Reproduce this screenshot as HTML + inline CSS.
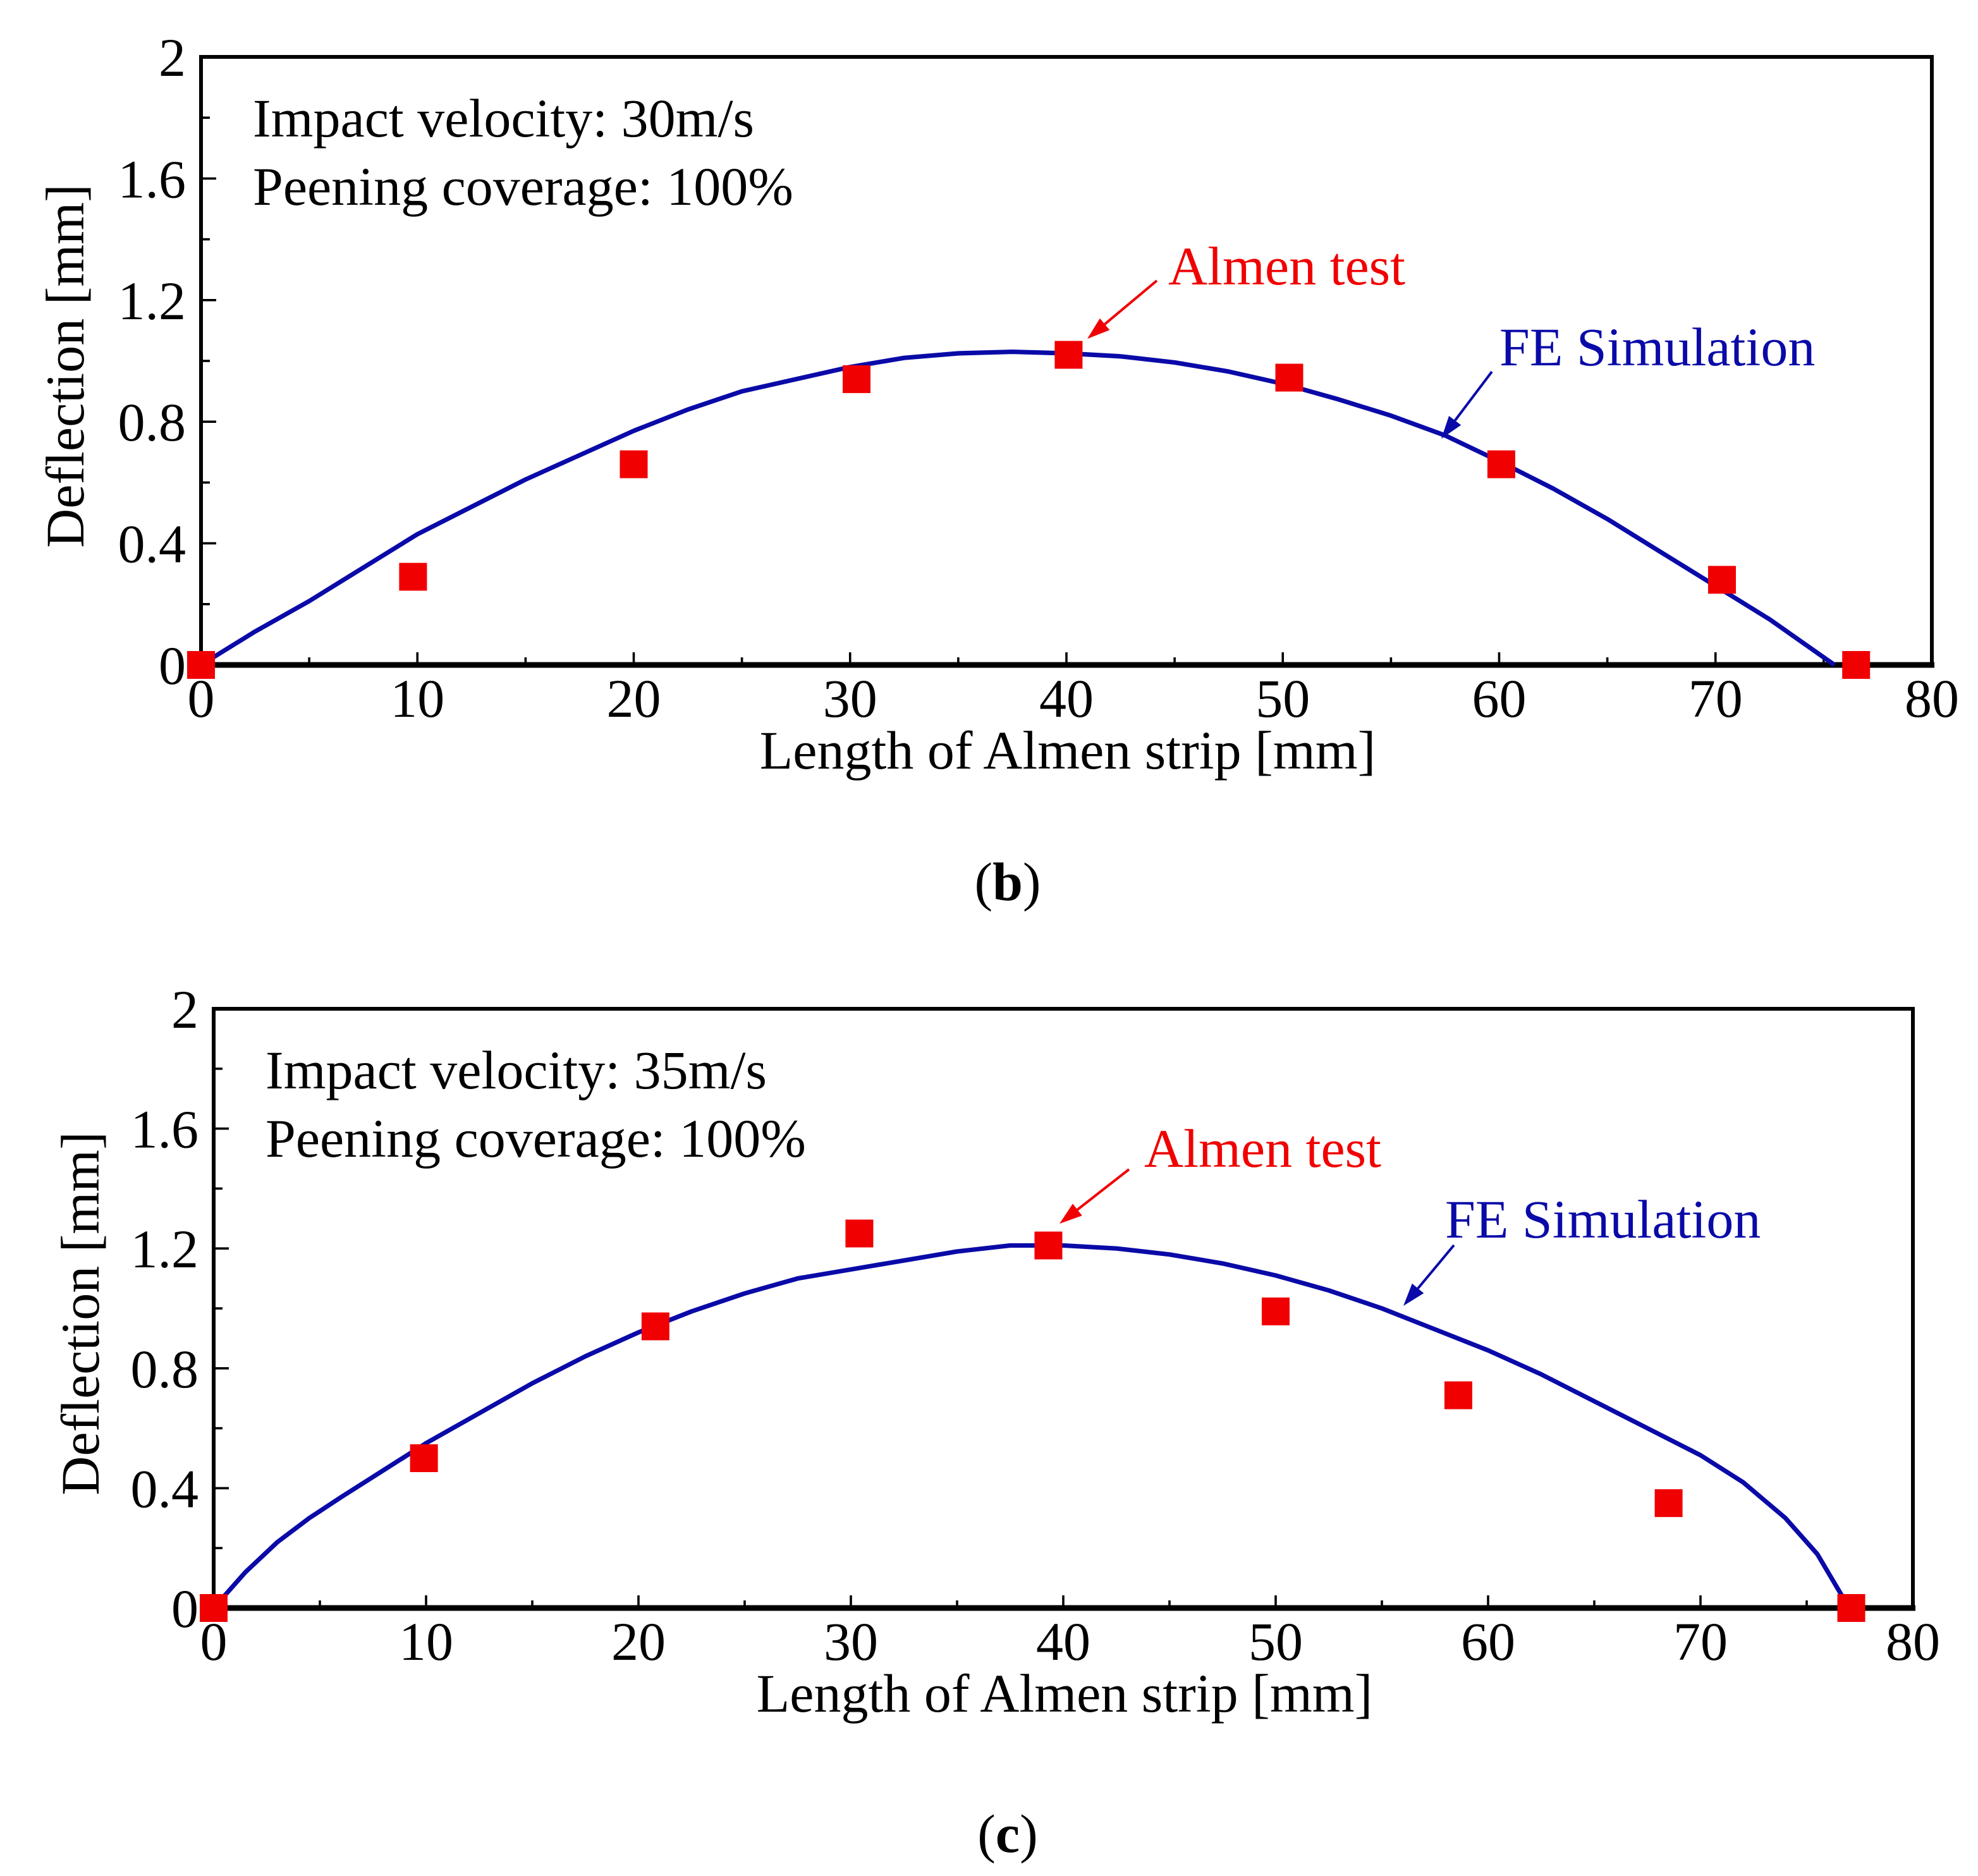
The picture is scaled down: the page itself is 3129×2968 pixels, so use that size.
<!DOCTYPE html>
<html><head><meta charset="utf-8"><style>
html,body{margin:0;padding:0;background:#fff;}
svg{display:block;font-family:"Liberation Serif",serif;}
</style></head><body>
<svg id="fig" width="3129" height="2968" viewBox="0 0 1564.5 1484" xmlns="http://www.w3.org/2000/svg"></svg>
<script>
// Chart (b) data
const bTestX = [0, 9.8, 20, 30.3, 40.1, 50.3, 60.1, 70.3, 76.5];
const bTestY = [0, 0.29, 0.66, 0.94, 1.02, 0.945, 0.66, 0.28, 0];
const bSimX = [0, 2.5, 5, 7.5, 10, 12.5, 15, 17.5, 20, 22.5, 25, 27.5, 30, 32.5, 35, 37.5, 40, 42.5, 45, 47.5, 50, 52.5, 55, 57.5, 60, 62.5, 65, 67.5, 70, 72.5, 75.5];
const bSimY = [0, 0.11, 0.21, 0.32, 0.43, 0.52, 0.61, 0.69, 0.77, 0.84, 0.9, 0.94, 0.98, 1.01, 1.025, 1.03, 1.025, 1.015, 0.995, 0.965, 0.925, 0.875, 0.82, 0.755, 0.67, 0.58, 0.48, 0.37, 0.26, 0.15, 0];
// Chart (c) data
const cTestX = [0, 9.9, 20.8, 30.4, 39.3, 50, 58.6, 68.5, 77.1];
const cTestY = [0, 0.5, 0.94, 1.25, 1.21, 0.99, 0.71, 0.35, 0];
const cSimX = [0, 1.5, 3, 4.5, 6, 8, 10, 12.5, 15, 17.5, 20, 22.5, 25, 27.5, 30, 32.5, 35, 37.5, 40, 42.5, 45, 47.5, 50, 52.5, 55, 57.5, 60, 62.5, 65, 67.5, 70, 72, 74, 75.5, 77];
const cSimY = [0, 0.12, 0.22, 0.3, 0.37, 0.46, 0.55, 0.65, 0.75, 0.84, 0.92, 0.99, 1.05, 1.1, 1.13, 1.16, 1.19, 1.21, 1.21, 1.2, 1.18, 1.15, 1.11, 1.06, 1.0, 0.93, 0.86, 0.78, 0.69, 0.6, 0.51, 0.42, 0.3, 0.18, 0];
const xTicks = [0, 10, 20, 30, 40, 50, 60, 70, 80];
const yTicks = [0, 0.4, 0.8, 1.2, 1.6, 2];
const yTickLabels = ["0", "0.4", "0.8", "1.2", "1.6", "2"];

const NS = "http://www.w3.org/2000/svg";
const svg = document.getElementById('fig');
const FS = 43;
function mk(tag, attrs, parent, text) {
  const e = document.createElementNS(NS, tag);
  for (const k in attrs) e.setAttribute(k, attrs[k]);
  if (text !== undefined) e.textContent = text;
  (parent || svg).appendChild(e);
  return e;
}

function drawChart(cfg) {
  const g = mk('g', {});
  
  
  const L = cfg.L, R = cfg.R, T = cfg.T, B = cfg.B;
  const xs = v => L + (v / 80) * (R - L);
  const ys = v => B - (v / 2) * (B - T);
  const fr = mk('rect', {x: L, y: T, width: R - L, height: B - T, fill: 'none', stroke: '#000', 'stroke-width': 3}, g);
  
  
  for (let v = 0; v <= 80; v += 5) {
    const len = v % 10 === 0 ? 10 : 6;
    const t = mk('line', {x1: xs(v), x2: xs(v), y1: B, y2: B - len, stroke: '#000', 'stroke-width': 1.8}, g);
    
    
  }
  for (let i = 0; i <= 10; i++) {
    const v = i * 0.2;
    const len = i % 2 === 0 ? 12 : 7;
    const t = mk('line', {x1: L, x2: L + len, y1: ys(v), y2: ys(v), stroke: '#000', 'stroke-width': 1.8}, g);
    
    
  }
  xTicks.forEach(v => {
    const t = mk('text', {x: xs(v), y: B + 41, 'font-size': FS, 'text-anchor': 'middle'}, g, String(v));
    
    
  });
  yTicks.forEach((v, i) => {
    const t = mk('text', {x: L - 12, y: ys(v) + 15, 'font-size': FS, 'text-anchor': 'end'}, g, yTickLabels[i]);
    
    
  });
  const xa = mk('line', {x1: L, x2: R + 2, y1: B, y2: B, stroke: '#000', 'stroke-width': 4.5}, g);
  
  
  const xt = mk('text', {x: (L + R) / 2 + 1, y: B + 82, 'font-size': FS, 'text-anchor': 'middle'}, g, 'Length of Almen strip [mm]');
  
  
  const yx = cfg.yTitleX, yy = (T + B) / 2 + 4;
  const yt = mk('text', {x: yx, y: yy, 'font-size': FS, 'text-anchor': 'middle', transform: `rotate(-90 ${yx} ${yy})`}, g, 'Deflection [mm]');
  
  
  let d = '';
  cfg.simX.forEach((v, i) => { d += (i ? 'L' : 'M') + xs(v).toFixed(2) + ' ' + ys(cfg.simY[i]).toFixed(2); });
  const sl = mk('path', {d: d, fill: 'none', stroke: '#0a0aa8', 'stroke-width': 3.6, 'stroke-linejoin': 'round'}, g);
  
  
  cfg.testX.forEach((v, i) => {
    const s = mk('rect', {x: xs(v) - 11, y: ys(cfg.testY[i]) - 11, width: 22, height: 22, fill: '#f00000'}, g);
    
    
  });
  const a1 = mk('text', {x: L + 41, y: cfg.t1y, 'font-size': FS}, g, cfg.vel);
  
  
  const a2 = mk('text', {x: L + 41, y: cfg.t1y + 54, 'font-size': FS}, g, 'Peening coverage: 100%');
  
  
  const at = mk('text', {x: cfg.almen[0], y: cfg.almen[1], 'font-size': FS, fill: '#f00000'}, g, 'Almen test');
  
  
  const fe = mk('text', {x: cfg.fe[0], y: cfg.fe[1], 'font-size': FS, fill: '#0a0aa8'}, g, 'FE Simulation');
  
  
  arrow(g, cfg.arrA, '#f00000', 'almen-test-arrow');
  arrow(g, cfg.arrF, '#0a0aa8', 'fe-simulation-arrow');
  const cap = mk('text', {x: 797, y: cfg.capY, 'font-size': FS, 'text-anchor': 'middle'}, g);
  
  
  mk('tspan', {}, cap, '(');
  mk('tspan', {'font-weight': 'bold'}, cap, cfg.cap);
  mk('tspan', {}, cap, ')');
}
function arrow(g, a, col, name) {
  const [x1, y1, x2, y2] = a;
  const ang = Math.atan2(y2 - y1, x2 - x1);
  const hl = 18, hw = 6;
  const bx = x2 - hl * Math.cos(ang), by = y2 - hl * Math.sin(ang);
  const ln = mk('line', {x1: x1, y1: y1, x2: bx, y2: by, stroke: col, 'stroke-width': 2}, g);
  
  
  const px = -Math.sin(ang) * hw, py = Math.cos(ang) * hw;
  const hd = mk('polygon', {points: `${x2},${y2} ${bx + px},${by + py} ${bx - px},${by - py}`, fill: col}, g);
  
  
}

drawChart({name: 'chart-b', L: 159, R: 1528, T: 45, B: 526, yTitleX: 66,
  simX: bSimX, simY: bSimY, testX: bTestX, testY: bTestY,
  vel: 'Impact velocity: 30m/s', t1y: 108, almen: [924, 225], fe: [1186, 289],
  arrA: [915, 222, 860, 268], arrF: [1180, 294, 1140, 347], capY: 712, cap: 'b'});
drawChart({name: 'chart-c', L: 169, R: 1513, T: 798, B: 1272, yTitleX: 78,
  simX: cSimX, simY: cSimY, testX: cTestX, testY: cTestY,
  vel: 'Impact velocity: 35m/s', t1y: 861, almen: [905, 923], fe: [1143, 979],
  arrA: [893, 925, 838, 968], arrF: [1150, 985, 1110, 1033], capY: 1465, cap: 'c'});
</script>
</body></html>
